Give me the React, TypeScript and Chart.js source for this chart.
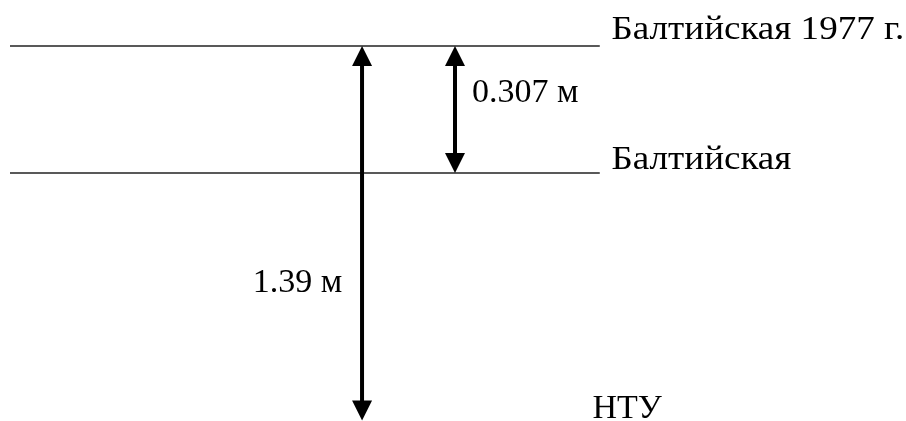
import { useEffect, useRef } from "react";
import { Chart, registerables } from "chart.js";

Chart.register(...registerables);

// Schematic level diagram (not to scale): level names and their schematic positions
const levelNames = ["Балтийская 1977 г.", "Балтийская", "НТУ"];
const levelPositions = [0, 1, 2.95];
// Horizontal reference lines drawn for the first two levels
const levelLineStart = [1.1, 1.1];
const levelLineEnd = [66.2, 66.2];
// Label anchors (diagram units)
const levelLabelX = [67.5, 67.5, 65.4];
const levelLabelY = [-0.055, 0.969, 2.929];
const levelLabelStretch = [1.09, 1.09, 1.0];

// Distance arrows between levels
const arrowLabels = ["1.39 м", "0.307 м"];
const arrowX = [39.96, 50.22];
const arrowFrom = [0, 0];
const arrowTo = [2, 1]; // index into levelPositions
const arrowLabelX = [27.9, 52.1];
const arrowLabelY = [1.937, 0.441];

const FONT = '34px "Liberation Serif", "Times New Roman", serif';

const diagramPlugin = {
  id: "diagramPlugin",
  afterDatasetsDraw(chart: any) {
    const ctx: CanvasRenderingContext2D = chart.ctx;
    const xs = chart.scales.x;
    const ys = chart.scales.y;
    ctx.save();
    // arrows
    chart.data.datasets.forEach((ds: any, i: number) => {
      if (!ds.isArrow) return;
      const meta = chart.getDatasetMeta(i);
      const p0 = meta.data[0];
      const p1 = meta.data[1];
      const x = p0.x;
      const yTop = Math.min(p0.y, p1.y);
      const yBot = Math.max(p0.y, p1.y);
      const headL = 20;
      const headW = 10;
      ctx.fillStyle = "#000";
      ctx.strokeStyle = "#000";
      ctx.lineWidth = 4;
      ctx.beginPath();
      ctx.moveTo(x, yTop + headL - 1);
      ctx.lineTo(x, yBot - headL + 1);
      ctx.stroke();
      ctx.beginPath();
      ctx.moveTo(x, yTop);
      ctx.lineTo(x - headW, yTop + headL);
      ctx.lineTo(x + headW, yTop + headL);
      ctx.closePath();
      ctx.fill();
      ctx.beginPath();
      ctx.moveTo(x, yBot);
      ctx.lineTo(x - headW, yBot - headL);
      ctx.lineTo(x + headW, yBot - headL);
      ctx.closePath();
      ctx.fill();
    });
    // texts
    ctx.font = FONT;
    ctx.fillStyle = "#000";
    ctx.textAlign = "left";
    ctx.textBaseline = "alphabetic";
    levelNames.forEach((name, i) => {
      const px = xs.getPixelForValue(levelLabelX[i]);
      const py = ys.getPixelForValue(levelLabelY[i]);
      ctx.save();
      ctx.translate(px, py);
      ctx.scale(levelLabelStretch[i], 1);
      ctx.fillText(name, 0, 0);
      ctx.restore();
    });
    arrowLabels.forEach((t, i) => {
      ctx.fillText(t, xs.getPixelForValue(arrowLabelX[i]), ys.getPixelForValue(arrowLabelY[i]));
    });
    ctx.restore();
  },
};

export default function App() {
  const ref = useRef<HTMLCanvasElement | null>(null);
  useEffect(() => {
    document.body.style.margin = "0";
    if (!ref.current) return;
    const lineSets = levelLineStart.map((s, i) => ({
      label: levelNames[i],
      data: [
        { x: s, y: levelPositions[i] },
        { x: levelLineEnd[i], y: levelPositions[i] },
      ],
      showLine: true,
      borderColor: "#222222",
      borderWidth: 1.5,
      pointRadius: 0,
      fill: false,
    }));
    const arrowSets = arrowLabels.map((t, i) => ({
      label: t,
      isArrow: true,
      data: [
        { x: arrowX[i], y: levelPositions[arrowFrom[i]] },
        { x: arrowX[i], y: levelPositions[arrowTo[i]] },
      ],
      showLine: false,
      pointRadius: 0,
    }));
    const chart = new Chart(ref.current, {
      type: "scatter",
      data: { datasets: [...lineSets, ...arrowSets] as any },
      options: {
        animation: false,
        responsive: false,
        devicePixelRatio: 1,
        layout: { padding: 0 },
        plugins: { legend: { display: false }, tooltip: { enabled: false } },
        scales: {
          x: { type: "linear", min: 0, max: 100, display: false },
          y: { type: "linear", min: -0.362, max: 2.953, reverse: true, display: false },
        },
      },
      plugins: [diagramPlugin],
    });
    return () => chart.destroy();
  }, []);
  return (
    <div style={{ position: "absolute", left: 0, top: 0, width: 906, height: 421, background: "#fff" }}>
      <canvas ref={ref} width={906} height={421} />
    </div>
  );
}
